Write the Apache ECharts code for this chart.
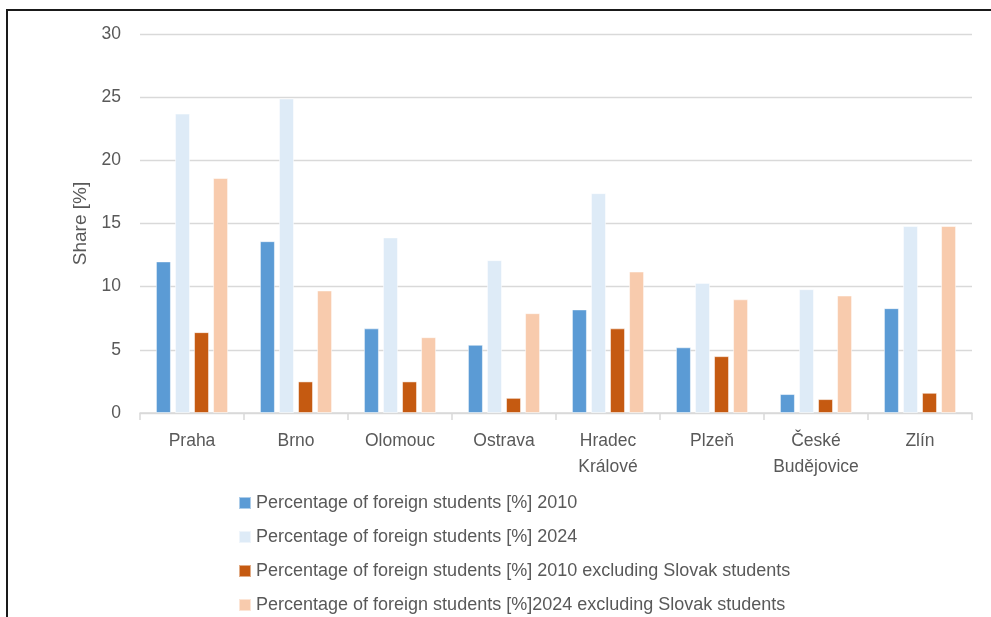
<!DOCTYPE html>
<html>
<head>
<meta charset="utf-8">
<script src="https://cdn.jsdelivr.net/npm/echarts@6/dist/echarts.min.js"></script>
<style>
  html, body { margin: 0; padding: 0; background: #ffffff; }
  #chart { width: 991px; height: 617px; }
</style>
</head>
<body>
<div id="chart"></div>
<script>
// Cities on the category axis
const cities = ['Praha', 'Brno', 'Olomouc', 'Ostrava', 'Hradec\nKrálové', 'Plzeň', 'České\nBudějovice', 'Zlín'];

// Share of foreign students [%]
const foreign2010 = [12.0, 13.6, 6.7, 5.4, 8.2, 5.2, 1.5, 8.3];
const foreign2024 = [23.7, 24.9, 13.9, 12.1, 17.4, 10.3, 9.8, 14.8];
const foreign2010NoSK = [6.4, 2.5, 2.5, 1.2, 6.7, 4.5, 1.1, 1.6];
const foreign2024NoSK = [18.6, 9.7, 6.0, 7.9, 11.2, 9.0, 9.3, 14.8];

// Legend / series names
const seriesNames = [
  'Percentage of foreign students [%] 2010',
  'Percentage of foreign students [%] 2024',
  'Percentage of foreign students [%] 2010 excluding Slovak students',
  'Percentage of foreign students [%]2024 excluding Slovak students'
];

const yTicks = { min: 0, max: 30, step: 5 };
const yName = 'Share [%]';

const colors = ['#5B9BD5', '#DEEBF7', '#C55A11', '#F8CBAD'];
const textColor = '#595959';
const font = '"Liberation Sans", Arial, sans-serif';

const values = [foreign2010, foreign2024, foreign2010NoSK, foreign2024NoSK];

const chart = echarts.init(document.getElementById('chart'), null, { renderer: 'canvas' });

chart.setOption({
  animation: false,
  backgroundColor: '#ffffff',
  color: colors,
  textStyle: { fontFamily: font },
  graphic: [{
    type: 'rect',
    shape: { x: 7, y: 10, width: 1100, height: 800 },
    style: { fill: 'none', stroke: '#1a1a1a', lineWidth: 2 },
    silent: true
  }],
  grid: { left: 140, right: 19, top: 34, bottom: 204, containLabel: false },
  legend: {
    orient: 'vertical',
    left: 238,
    top: 494,
    height: 140,
    padding: 0,
    itemWidth: 12,
    itemHeight: 12,
    itemGap: 16,
    icon: 'rect',
    textStyle: { color: textColor, fontSize: 18, fontFamily: font },
    data: seriesNames
  },
  xAxis: {
    type: 'category',
    data: cities,
    axisLine: { lineStyle: { color: '#D9D9D9', width: 1.5 } },
    axisTick: { show: true, length: 7, lineStyle: { color: '#D9D9D9', width: 1.5 } },
    axisLabel: {
      color: textColor, fontSize: 17.5, fontFamily: font,
      margin: 15, lineHeight: 26, interval: 0
    }
  },
  yAxis: {
    type: 'value',
    min: yTicks.min,
    max: yTicks.max,
    interval: yTicks.step,
    name: yName,
    nameLocation: 'middle',
    nameGap: 48,
    nameTextStyle: { color: textColor, fontSize: 19, fontFamily: font },
    axisLine: { show: false },
    axisTick: { show: false },
    axisLabel: { color: textColor, fontSize: 17.5, fontFamily: font, margin: 19 },
    splitLine: { lineStyle: { color: '#D9D9D9', width: 1.3 } }
  },
  series: seriesNames.map((name, i) => ({
    name: name,
    type: 'bar',
    data: values[i],
    barWidth: 15,
    barGap: '27%',
    itemStyle: { color: colors[i], borderColor: 'rgba(255,255,255,0.5)', borderWidth: 1 }
  }))
});
</script>
</body>
</html>
